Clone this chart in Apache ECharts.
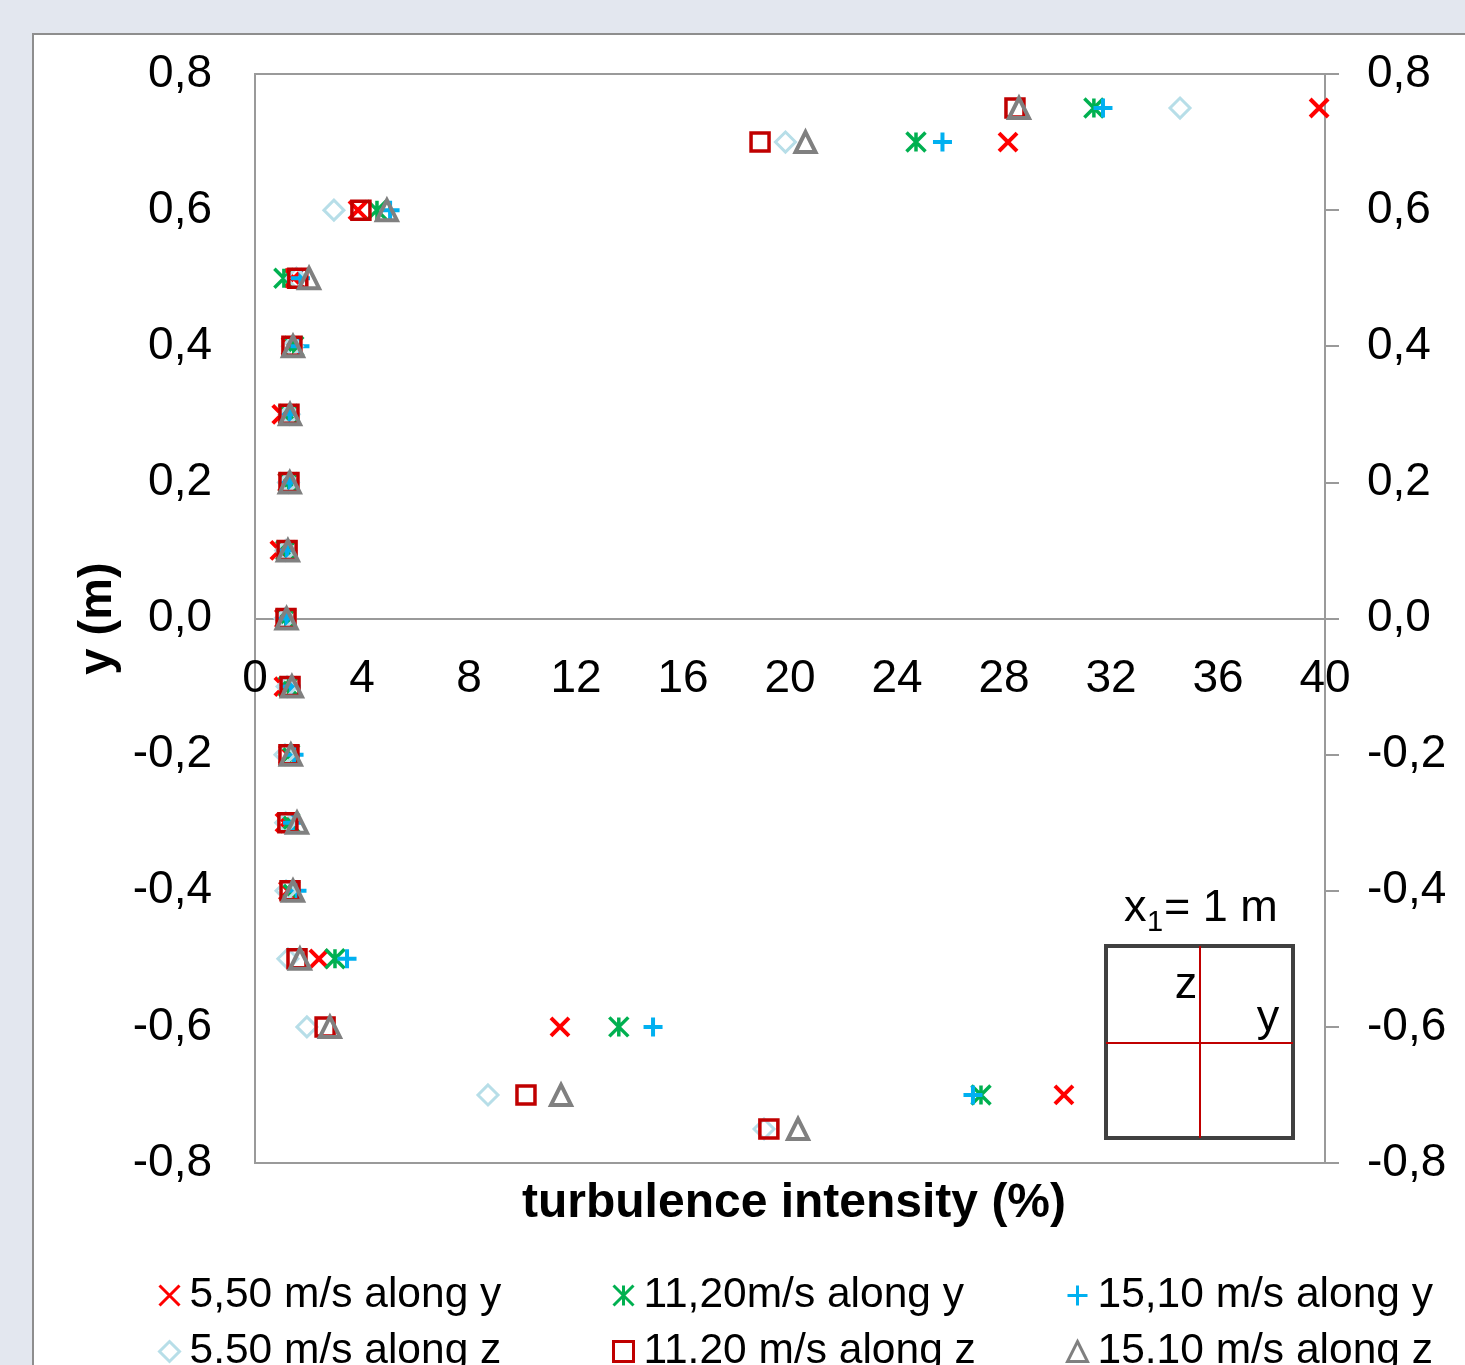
<!DOCTYPE html>
<html>
<head>
<meta charset="utf-8">
<script src="https://cdn.jsdelivr.net/npm/echarts@6/dist/echarts.min.js"></script>
<style>
  html, body { margin: 0; padding: 0; background: #e3e7ef; }
  #chart { width: 1465px; height: 1365px; }
</style>
</head>
<body>
<div id="chart"></div>
<script>
// y position (m) of each measuring point
const yLevels = [0.75, 0.7, 0.6, 0.5, 0.4, 0.3, 0.2, 0.1, 0, -0.1, -0.2, -0.3, -0.4, -0.5, -0.6, -0.7, -0.75]

// turbulence intensity (%) per series, same order as yLevels
const ti550y = [39.78, 28.15, 3.85, 1.45, 1.35, 1.0, 1.22, 0.93, 1.1, 1.08, 1.25, 1.12, 1.25, 2.39, 11.4, 30.24, null]
const ti1120y = [31.36, 24.71, 4.56, 1.08, 1.45, 1.25, 1.25, 1.15, 1.15, 1.25, 1.3, 1.3, 1.3, 2.99, 13.6, 27.14, null]
const ti1510y = [31.7, 25.7, 5.05, 1.7, 1.68, 1.3, 1.3, 1.2, 1.18, 1.35, 1.46, 1.4, 1.57, 3.44, 14.88, 26.84, null]
const ti550z = [34.58, 19.83, 2.95, 1.55, 1.4, 1.28, 1.25, 1.15, 1.12, 1.2, 1.12, 1.15, 1.16, 1.23, 1.94, 8.71, 19.03]
const ti1120z = [28.41, 18.88, 3.96, 1.6, 1.38, 1.27, 1.27, 1.2, 1.16, 1.31, 1.27, 1.23, 1.31, 1.57, 2.62, 10.13, 19.21]
const ti1510z = [28.56, 20.58, 4.93, 2.02, 1.42, 1.31, 1.3, 1.23, 1.18, 1.38, 1.34, 1.57, 1.42, 1.68, 2.8, 11.44, 20.3]

const seriesNames = [
  '5,50 m/s along y', '11,20m/s along y', '15,10 m/s along y',
  '5.50 m/s along z', '11.20 m/s along z', '15.10 m/s along z'
]

const xTicks = { min: 0, max: 40, interval: 4 }
const yTicks = { min: -0.8, max: 0.8, interval: 0.2 }

const FONT = 'Liberation Sans, Arial, sans-serif'

const GRID = { left: 255, right: 140, top: 74, bottom: 202 }
const plotHeight = 1365 - GRID.top - GRID.bottom
// distance from bottom edge of the plot up to y = 0
const zeroOffset = plotHeight * (0 - yTicks.min) / (yTicks.max - yTicks.min)

const toPoints = (vals) => yLevels
  .map((y, i) => [vals[i], y])
  .filter(p => p[0] !== null)

const markers = [
  { symbol: 'path://M0,0L10,10M10,0L0,10', size: 18, color: '#ff0000', width: 4 },
  { symbol: 'path://M0,0L10,10M10,0L0,10M5,0L5,10', size: 19, color: '#00b050', width: 3.5 },
  { symbol: 'path://M5,0L5,10M0,5L10,5', size: 19, color: '#00b0f0', width: 4 },
  { symbol: 'diamond', size: 20, color: '#b7dee8', width: 3 },
  { symbol: 'rect', size: 18, color: '#c00000', width: 3.5 },
  { symbol: 'triangle', size: 20, color: '#808080', width: 4 }
]

const allData = [ti550y, ti1120y, ti1510y, ti550z, ti1120z, ti1510z]

const series = allData.map((vals, i) => ({
  name: seriesNames[i],
  type: 'scatter',
  symbol: markers[i].symbol,
  symbolSize: markers[i].size,
  itemStyle: {
    color: 'rgba(0,0,0,0)',
    borderColor: markers[i].color,
    borderWidth: markers[i].width,
    opacity: 1
  },
  data: toPoints(vals)
}))

// legend laid out as 3 columns x 2 rows
const legendLefts = [158, 612, 1066]
const legendTops = [1274, 1330]
const legends = seriesNames.map((name, i) => ({
  data: [name],
  left: legendLefts[i % 3],
  top: legendTops[Math.floor(i / 3)],
  padding: 0,
  itemWidth: 20,
  itemHeight: 20,
  selectedMode: false,
  itemStyle: { borderWidth: 3 },
  textStyle: { fontSize: 42.5, color: '#000', fontFamily: FONT, padding: [0, 0, 0, 5] }
}))

const yLabel = v => {
  const s = (Math.round(v * 10) / 10).toFixed(1)
  return (s === '-0.0' ? '0.0' : s).replace('.', ',')
}

const chart = echarts.init(document.getElementById('chart'), null, { renderer: 'canvas' })

chart.setOption({
  backgroundColor: '#e3e7ef',
  animation: false,
  textStyle: { fontFamily: FONT },
  grid: Object.assign({
    show: true, borderColor: '#9a9a9a', borderWidth: 2, backgroundColor: 'transparent'
  }, GRID),
  legend: legends,
  xAxis: {
    type: 'value',
    min: xTicks.min, max: xTicks.max, interval: xTicks.interval,
    position: 'bottom',
    offset: -zeroOffset,
    axisLine: { show: true, onZero: false, lineStyle: { color: '#9a9a9a', width: 2 } },
    axisTick: { show: false },
    splitLine: { show: false },
    axisLabel: { fontSize: 46, color: '#000', margin: 38, fontFamily: FONT }
  },
  yAxis: [
    {
      type: 'value',
      min: yTicks.min, max: yTicks.max, interval: yTicks.interval,
      position: 'left',
      name: 'y (m)',
      nameLocation: 'middle',
      nameRotate: 90,
      nameGap: 130,
      nameTextStyle: { fontSize: 47, fontWeight: 'bold', color: '#000', fontFamily: FONT },
      axisLine: { show: true, onZero: false, lineStyle: { color: '#9a9a9a', width: 2 } },
      axisTick: { show: false },
      splitLine: { show: false },
      axisLabel: { fontSize: 46, color: '#000', margin: 43, formatter: yLabel, fontFamily: FONT, padding: [4, 0, 0, 0] }
    },
    {
      type: 'value',
      min: yTicks.min, max: yTicks.max, interval: yTicks.interval,
      position: 'right',
      axisLine: { show: true, onZero: false, lineStyle: { color: '#9a9a9a', width: 2 } },
      axisTick: { show: true, inside: false, length: 14, lineStyle: { color: '#9a9a9a', width: 2 } },
      splitLine: { show: false },
      axisLabel: { fontSize: 46, color: '#000', margin: 42, formatter: yLabel, fontFamily: FONT, padding: [4, 0, 0, 0] }
    }
  ],
  graphic: [
    // white chart panel
    {
      type: 'rect', z: -100, silent: true,
      shape: { x: 33, y: 34, width: 1500, height: 1400 },
      style: { fill: '#fff', stroke: '#8e8e8e', lineWidth: 2 }
    },
    {
      type: 'text', silent: true,
      x: 794, y: 1204,
      style: {
        text: 'turbulence intensity (%)',
        align: 'center', verticalAlign: 'middle',
        font: 'bold 48px ' + FONT, fill: '#000'
      }
    },
    // inset: duct cross-section sketch
    {
      type: 'rect', silent: true,
      shape: { x: 1106, y: 946, width: 187, height: 192 },
      style: { fill: '#fff', stroke: '#404040', lineWidth: 4 }
    },
    {
      type: 'line', silent: true,
      shape: { x1: 1200, y1: 946, x2: 1200, y2: 1138 },
      style: { stroke: '#c00000', lineWidth: 2 }
    },
    {
      type: 'line', silent: true,
      shape: { x1: 1106, y1: 1043, x2: 1293, y2: 1043 },
      style: { stroke: '#c00000', lineWidth: 2 }
    },
    {
      type: 'text', silent: true, x: 1186, y: 986,
      style: { text: 'z', align: 'center', verticalAlign: 'middle', font: '45px ' + FONT, fill: '#000' }
    },
    {
      type: 'text', silent: true, x: 1268, y: 1019,
      style: { text: 'y', align: 'center', verticalAlign: 'middle', font: '45px ' + FONT, fill: '#000' }
    },
    {
      type: 'text', silent: true, x: 1124, y: 909,
      style: { text: 'x', align: 'left', verticalAlign: 'middle', font: '45px ' + FONT, fill: '#000' }
    },
    {
      type: 'text', silent: true, x: 1147, y: 923,
      style: { text: '1', align: 'left', verticalAlign: 'middle', font: '29px ' + FONT, fill: '#000' }
    },
    {
      type: 'text', silent: true, x: 1164, y: 909,
      style: { text: '= 1 m', align: 'left', verticalAlign: 'middle', font: '45px ' + FONT, fill: '#000' }
    }
  ],
  series: series
})
</script>
</body>
</html>
